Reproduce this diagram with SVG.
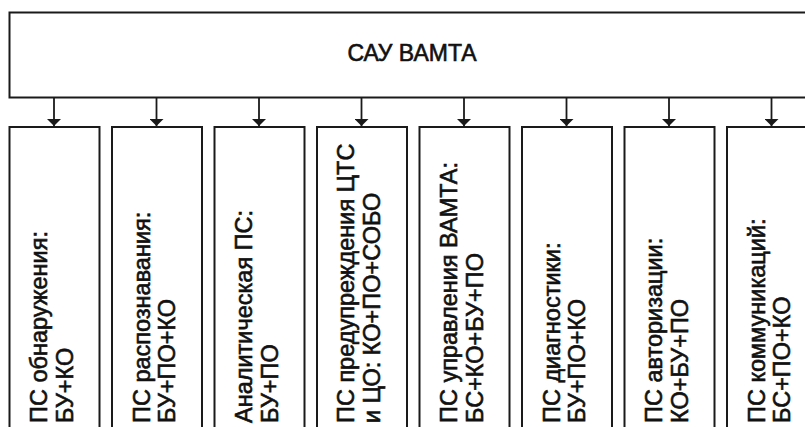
<svg xmlns="http://www.w3.org/2000/svg" width="805" height="427" viewBox="0 0 805 427">
<defs>
<style>
.box{fill:#fff;stroke:#1a1a1a;stroke-width:2}
.t{font-family:"Liberation Sans",Arial,sans-serif;font-size:23.5px;fill:#111;stroke:#111;stroke-width:0.6}
.edge{stroke:#1a1a1a;stroke-width:1.8;fill:none}
</style>
<marker id="ah" viewBox="0 0 10 10" refX="10" refY="5" markerWidth="7" markerHeight="14" markerUnits="userSpaceOnUse" orient="auto" preserveAspectRatio="none">
<path d="M0,0 L10,5 L0,10 Z" fill="#1a1a1a"/>
</marker>
</defs>
<rect width="805" height="427" fill="#fff"/>
<g id="sau">
<rect class="box" x="9.5" y="12.5" width="810" height="85"/>
<text class="t" x="412" y="61" text-anchor="middle" style="font-size:23px">САУ ВАМТА</text>
</g>
<g id="connectors">
<line class="edge" x1="54" y1="98" x2="54" y2="126" marker-end="url(#ah)"/>
<line class="edge" x1="156.5" y1="98" x2="156.5" y2="126" marker-end="url(#ah)"/>
<line class="edge" x1="259" y1="98" x2="259" y2="126" marker-end="url(#ah)"/>
<line class="edge" x1="361.5" y1="98" x2="361.5" y2="126" marker-end="url(#ah)"/>
<line class="edge" x1="464" y1="98" x2="464" y2="126" marker-end="url(#ah)"/>
<line class="edge" x1="566.5" y1="98" x2="566.5" y2="126" marker-end="url(#ah)"/>
<line class="edge" x1="669" y1="98" x2="669" y2="126" marker-end="url(#ah)"/>
<line class="edge" x1="771.5" y1="98" x2="771.5" y2="126" marker-end="url(#ah)"/>
</g>
<g id="n1">
<rect class="box" x="9.5" y="127" width="90" height="320"/>
<text class="t" transform="translate(47,423) rotate(-90)"><tspan x="0">ПС обнаружения:</tspan><tspan x="0" dy="25.5">БУ+КО</tspan></text>
</g>
<g id="n2">
<rect class="box" x="112" y="127" width="90" height="320"/>
<text class="t" transform="translate(149.5,423) rotate(-90)"><tspan x="0">ПС распознавания:</tspan><tspan x="0" dy="25.5">БУ+ПО+КО</tspan></text>
</g>
<g id="n3">
<rect class="box" x="214.5" y="127" width="90" height="320"/>
<text class="t" transform="translate(252,423) rotate(-90)"><tspan x="0">Аналитическая ПС:</tspan><tspan x="0" dy="25.5">БУ+ПО</tspan></text>
</g>
<g id="n4">
<rect class="box" x="317" y="127" width="90" height="320"/>
<text class="t" transform="translate(354,423) rotate(-90)"><tspan x="0">ПС предупреждения ЦТС</tspan><tspan x="0" dy="25.5">и ЦО: КО+ПО+СОБО</tspan></text>
</g>
<g id="n5">
<rect class="box" x="419.5" y="127" width="90" height="320"/>
<text class="t" transform="translate(457,423) rotate(-90)"><tspan x="0">ПС управления ВАМТА:</tspan><tspan x="0" dy="25.5">БС+КО+БУ+ПО</tspan></text>
</g>
<g id="n6">
<rect class="box" x="522" y="127" width="90" height="320"/>
<text class="t" transform="translate(559.5,423) rotate(-90)"><tspan x="0">ПС диагностики:</tspan><tspan x="0" dy="25.5">БУ+ПО+КО</tspan></text>
</g>
<g id="n7">
<rect class="box" x="624.5" y="127" width="90" height="320"/>
<text class="t" transform="translate(662,423) rotate(-90)"><tspan x="0">ПС авторизации:</tspan><tspan x="0" dy="25.5">КО+БУ+ПО</tspan></text>
</g>
<g id="n8">
<rect class="box" x="727" y="127" width="90" height="320"/>
<text class="t" transform="translate(764.5,423) rotate(-90)"><tspan x="0">ПС коммуникаций:</tspan><tspan x="0" dy="25.5">БС+ПО+КО</tspan></text>
</g>
</svg>
